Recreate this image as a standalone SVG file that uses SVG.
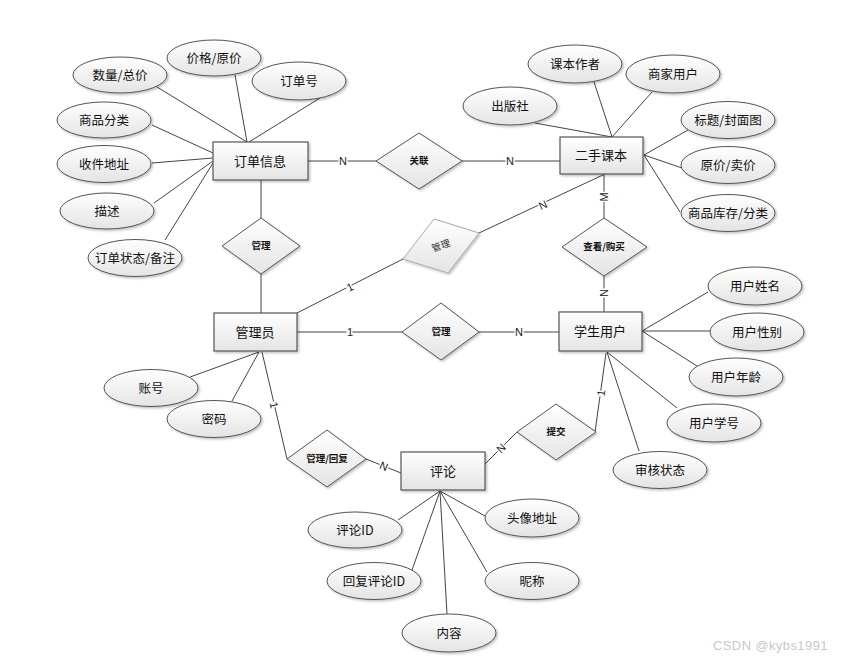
<svg xmlns="http://www.w3.org/2000/svg" width="848" height="660" viewBox="0 0 848 660">
<defs>
<linearGradient id="g" x1="0" y1="0" x2="0" y2="1"><stop offset="0" stop-color="#ffffff"/><stop offset="1" stop-color="#e4e4e4"/></linearGradient>
<filter id="sh" x="-10%" y="-10%" width="130%" height="140%"><feDropShadow dx="1.5" dy="1.5" stdDeviation="1" flood-color="#000" flood-opacity="0.25"/></filter>
<style>
.ent rect{fill:url(#g);stroke:#555;stroke-width:1.2;filter:url(#sh)}
.att ellipse{fill:url(#g);stroke:#555;stroke-width:1;filter:url(#sh)}
.rel polygon{fill:url(#g);stroke:#555;stroke-width:1;filter:url(#sh)}
.rel.light polygon{stroke:#aaa}
.rel.light text{font-weight:normal;fill:#333}
text{font-family:"Noto Sans CJK SC","Liberation Sans",sans-serif;fill:#111;text-anchor:middle}
.ent text{font-size:13px}
.att text{font-size:12.5px}
.rel text{font-size:9.5px;font-weight:bold}
.conn line{stroke:#444;stroke-width:1;fill:none}
.lbl{font-family:"Liberation Sans",sans-serif;font-size:11px;fill:#222;stroke:#fff;stroke-width:3;paint-order:stroke}
.wm{font-family:"Liberation Sans",sans-serif;font-size:13px;fill:#c8c8c8;text-anchor:start;letter-spacing:0.4px}
</style>
</defs>
<rect width="848" height="660" fill="#fff"/>

<g id="connectors" class="conn">
<line x1="157" y1="87" x2="247" y2="142"/>
<line x1="235" y1="75" x2="247" y2="142"/>
<line x1="320" y1="98" x2="249" y2="142"/>
<line x1="152" y1="125" x2="213" y2="153"/>
<line x1="152" y1="163" x2="213" y2="158"/>
<line x1="154" y1="203" x2="213" y2="161"/>
<line x1="165" y1="240" x2="213" y2="163"/>
<line x1="594" y1="82" x2="612" y2="137"/>
<line x1="652" y1="92" x2="612" y2="137"/>
<line x1="535" y1="123" x2="612" y2="137"/>
<line x1="688" y1="130" x2="644" y2="155"/>
<line x1="682" y1="168" x2="644" y2="155"/>
<line x1="680" y1="212" x2="644" y2="155"/>
<line x1="190" y1="377" x2="259" y2="352"/>
<line x1="232" y1="401" x2="259" y2="352"/>
<line x1="708" y1="292" x2="642" y2="331"/>
<line x1="710" y1="331" x2="642" y2="331"/>
<line x1="697" y1="366" x2="642" y2="331"/>
<line x1="677" y1="408" x2="607" y2="352"/>
<line x1="639" y1="451" x2="607" y2="352"/>
<line x1="398" y1="520" x2="440" y2="491"/>
<line x1="412" y1="570" x2="440" y2="491"/>
<line x1="447" y1="614" x2="440" y2="491"/>
<line x1="485" y1="516" x2="440" y2="491"/>
<line x1="487" y1="572" x2="440" y2="491"/>
<line x1="308" y1="161" x2="376" y2="161"/>
<line x1="462" y1="161" x2="560" y2="161"/>
<line x1="261" y1="180" x2="261" y2="218"/>
<line x1="261" y1="274" x2="261" y2="313"/>
<line x1="605" y1="174" x2="479" y2="233"/>
<line x1="403" y1="259" x2="297" y2="313"/>
<line x1="604" y1="174" x2="604" y2="218"/>
<line x1="604" y1="276" x2="604" y2="312"/>
<line x1="297" y1="332" x2="402" y2="332"/>
<line x1="479" y1="332" x2="559" y2="332"/>
<line x1="262" y1="352" x2="287" y2="459"/>
<line x1="366" y1="459" x2="401" y2="473"/>
<line x1="606" y1="353" x2="595" y2="432"/>
<line x1="517" y1="432" x2="485" y2="464"/>
<text class="lbl" x="343" y="165">N</text>
<text class="lbl" x="510" y="165">N</text>
<text class="lbl" transform="translate(543,205) rotate(-25)" y="4">N</text>
<text class="lbl" transform="translate(350,287) rotate(-27)" y="4">1</text>
<text class="lbl" transform="translate(604,197) rotate(-90)" y="4">M</text>
<text class="lbl" transform="translate(604,293) rotate(90)" y="4">N</text>
<text class="lbl" x="350" y="336">1</text>
<text class="lbl" x="519" y="336">N</text>
<text class="lbl" transform="translate(274,405) rotate(77)" y="4">1</text>
<text class="lbl" transform="translate(384,466) rotate(22)" y="4">N</text>
<text class="lbl" transform="translate(601,393) rotate(-82)" y="4">1</text>
<text class="lbl" transform="translate(501,448) rotate(-45)" y="4">N</text>
</g>

<g id="order" class="ent"><rect x="213" y="142" width="95" height="38"/><text x="260" y="166">订单信息</text></g>
<g id="book" class="ent"><rect x="560" y="137" width="83" height="37"/><text x="601" y="160">二手课本</text></g>
<g id="admin" class="ent"><rect x="214" y="313" width="83" height="38"/><text x="255" y="337">管理员</text></g>
<g id="student" class="ent"><rect x="559" y="312" width="83" height="39"/><text x="600" y="336">学生用户</text></g>
<g id="comment" class="ent"><rect x="401" y="452" width="84" height="38"/><text x="443" y="476">评论</text></g>

<g id="rel-link" class="rel"><polygon points="376,161 419,133 462,161 419,189"/><text x="419" y="164">关联</text></g>
<g id="rel-manage-order" class="rel"><polygon points="222,246 261,218 300,246 261,274"/><text x="261" y="249">管理</text></g>
<g id="rel-manage-book" class="rel light"><polygon points="434,219 479,233 448,273 403,259"/><text transform="translate(441,246) rotate(-19)" y="3">管理</text></g>
<g id="rel-view-buy" class="rel"><polygon points="562,247 604,218 647,247 604,276"/><text x="604" y="250">查看/购买</text></g>
<g id="rel-manage-student" class="rel"><polygon points="402,332 441,303 479,332 441,360"/><text x="441" y="335">管理</text></g>
<g id="rel-reply" class="rel"><polygon points="287,459 327,430 366,459 327,487"/><text x="327" y="462">管理/回复</text></g>
<g id="rel-submit" class="rel"><polygon points="517,432 556,404 596,432 556,460"/><text x="556" y="435">提交</text></g>

<g id="a-qty" class="att"><ellipse cx="120" cy="75" rx="47" ry="18"/><text x="120" y="79.5">数量/总价</text></g>
<g id="a-price" class="att"><ellipse cx="214" cy="58" rx="47" ry="18"/><text x="214" y="62.5">价格/原价</text></g>
<g id="a-orderno" class="att"><ellipse cx="299" cy="81" rx="47" ry="19"/><text x="299" y="85.5">订单号</text></g>
<g id="a-category" class="att"><ellipse cx="104" cy="120" rx="47" ry="18"/><text x="104" y="124.5">商品分类</text></g>
<g id="a-address" class="att"><ellipse cx="104" cy="164" rx="47" ry="18.5"/><text x="104" y="168.5">收件地址</text></g>
<g id="a-desc" class="att"><ellipse cx="107" cy="211" rx="47" ry="18"/><text x="107" y="215.5">描述</text></g>
<g id="a-status" class="att"><ellipse cx="135" cy="258" rx="47" ry="18.5"/><text x="135" y="262.5">订单状态/备注</text></g>

<g id="a-author" class="att"><ellipse cx="575" cy="64" rx="47" ry="19"/><text x="575" y="68.5">课本作者</text></g>
<g id="a-merchant" class="att"><ellipse cx="673" cy="74" rx="47" ry="19"/><text x="673" y="78.5">商家用户</text></g>
<g id="a-publisher" class="att"><ellipse cx="510" cy="106" rx="47" ry="19"/><text x="510" y="110.5">出版社</text></g>
<g id="a-title" class="att"><ellipse cx="728" cy="120" rx="47" ry="18.5"/><text x="728" y="124.5">标题/封面图</text></g>
<g id="a-bookprice" class="att"><ellipse cx="728" cy="165" rx="47" ry="18.5"/><text x="728" y="169.5">原价/卖价</text></g>
<g id="a-stock" class="att"><ellipse cx="728" cy="213" rx="47" ry="18.5"/><text x="728" y="217.5">商品库存/分类</text></g>

<g id="a-account" class="att"><ellipse cx="151" cy="388" rx="47" ry="18.5"/><text x="151" y="392.5">账号</text></g>
<g id="a-password" class="att"><ellipse cx="214" cy="419" rx="47" ry="18.5"/><text x="214" y="423.5">密码</text></g>

<g id="a-name" class="att"><ellipse cx="755" cy="286" rx="47" ry="19"/><text x="755" y="290.5">用户姓名</text></g>
<g id="a-gender" class="att"><ellipse cx="757" cy="332" rx="47" ry="19"/><text x="757" y="336.5">用户性别</text></g>
<g id="a-age" class="att"><ellipse cx="736" cy="377" rx="47" ry="19"/><text x="736" y="381.5">用户年龄</text></g>
<g id="a-stuno" class="att"><ellipse cx="714" cy="423" rx="47" ry="19"/><text x="714" y="427.5">用户学号</text></g>
<g id="a-audit" class="att"><ellipse cx="660" cy="470" rx="47" ry="18.5"/><text x="660" y="474.5">审核状态</text></g>

<g id="a-commentid" class="att"><ellipse cx="355" cy="530" rx="47" ry="18"/><text x="355" y="534.5">评论ID</text></g>
<g id="a-replyid" class="att"><ellipse cx="374" cy="581" rx="47" ry="18.5"/><text x="374" y="585.5">回复评论ID</text></g>
<g id="a-content" class="att"><ellipse cx="449" cy="633" rx="47" ry="19"/><text x="449" y="637.5">内容</text></g>
<g id="a-avatar" class="att"><ellipse cx="532" cy="518" rx="47" ry="19"/><text x="532" y="522.5">头像地址</text></g>
<g id="a-nick" class="att"><ellipse cx="532" cy="581" rx="47" ry="18.5"/><text x="532" y="585.5">昵称</text></g>

<text class="wm" x="713" y="650">CSDN @kybs1991</text>
</svg>
